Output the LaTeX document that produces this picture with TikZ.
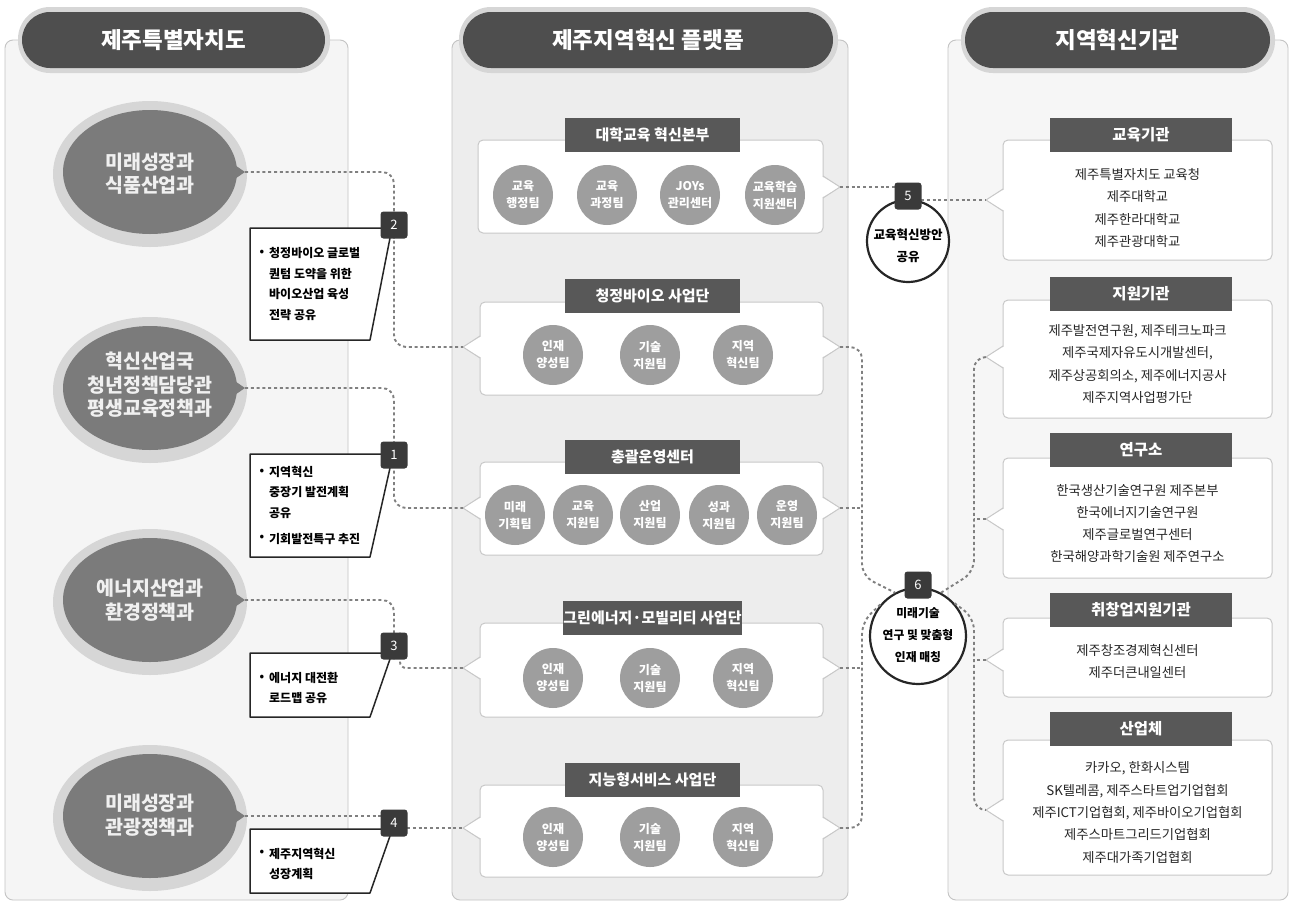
\documentclass[tikz,border=0pt]{standalone}
\usepackage{fontspec}
\setmainfont{Noto Sans CJK KR}
\definecolor{pnlL}{HTML}{F5F5F5}
\definecolor{pnlM}{HTML}{EDEDED}
\definecolor{pnlR}{HTML}{F6F6F6}
\definecolor{pnlB}{HTML}{C4C4C4}
\definecolor{hdr}{HTML}{4E4E4E}
\definecolor{halo}{HTML}{D6D6D6}
\definecolor{ell}{HTML}{7B7B7B}
\definecolor{tabc}{HTML}{585858}
\definecolor{circ}{HTML}{9E9E9E}
\definecolor{numc}{HTML}{3A3A3A}
\definecolor{dotc}{HTML}{808080}
\definecolor{boxb}{HTML}{C8C8C8}
\definecolor{txt}{HTML}{262626}
\newcommand\ptrR[3]{%
  \fill[white] (#1-2,#2-11) -- (#1+17,#2) -- (#1-2,#2+11) -- cycle;
  \draw[draw=boxb,line width=1pt,line join=round] (#1,#2-11) -- (#1+17,#2) -- (#1,#2+11);
  \coordinate (#3) at (#1+17,#2);}
\newcommand\ptrL[3]{%
  \fill[white] (#1+2,#2-11) -- (#1-17,#2) -- (#1+2,#2+11) -- cycle;
  \draw[draw=boxb,line width=1pt,line join=round] (#1,#2-11) -- (#1-17,#2) -- (#1,#2+11);
  \coordinate (#3) at (#1-17,#2);}
\newcommand\blob[2]{%
  \fill[halo] (150,#2+2) ellipse [x radius=97, y radius=73];
  \fill[ell] (150,#2) ellipse [x radius=87, y radius=62];
  \fill[ell] (226,#2-13) -- (245,#2) -- (226,#2+13) -- cycle;
  \coordinate (#1) at (245,#2);}
\newcommand\callout[3]{%
  \draw[call] (250,#2) -- (384,#2) -- (390,#1+13) -- (370,#3) -- (250,#3) -- cycle;}
\begin{document}
\begin{tikzpicture}[x=1pt,y=-1pt,
  hdrtext/.style={text=white,font=\fontsize{22.5}{26}\selectfont\bfseries,inner sep=0},
  ellt/.style={text=white!94!black,font=\fontsize{19.5}{23.5}\selectfont\bfseries,align=center,inner sep=0},
  tabbox/.style={fill=tabc,text=white,minimum height=34pt,inner sep=0,font=\fontsize{15}{17}\selectfont\bfseries},
  team/.style={circle,fill=circ,minimum size=60pt,inner sep=0,text=white,align=center,font=\fontsize{12}{17}\selectfont\bfseries},
  numbox/.style={fill=numc,rounded corners=3pt,minimum size=27pt,inner sep=0,text=white,font=\fontsize{13}{15}\selectfont},
  dotline/.style={draw=dotc,line width=1.9pt,dash pattern=on 3pt off 2.8pt,rounded corners=12pt},
  call/.style={draw=black!85,line width=1.5pt,fill=white,line join=round},
  calltext/.style={font=\fontsize{12}{20.5}\selectfont\bfseries,align=left,anchor=west,inner sep=0},
  bul/.style={font=\fontsize{11.5}{14}\selectfont\bfseries,inner sep=0},
  orgtext/.style={font=\fontsize{13.3}{22.3}\selectfont,text=txt,align=center,inner sep=0},
  ctext/.style={font=\fontsize{12.5}{22}\selectfont\bfseries,align=center,inner sep=0},
  wbox/.style={draw=boxb,line width=1pt,fill=white,rounded corners=5pt}]
\useasboundingbox (0,0) rectangle (1291,903);
\fill[white] (0,0) rectangle (1291,903);

% panels
\draw[draw=pnlB,fill=pnlL,rounded corners=8pt,line width=0.9pt] (5,40) rectangle (348,900);
\draw[draw=pnlB,fill=pnlM,rounded corners=8pt,line width=0.9pt] (452,40) rectangle (848,900);
\draw[draw=pnlB,fill=pnlR,rounded corners=8pt,line width=0.9pt] (948,40) rectangle (1288,900);

% headers
\fill[halo,rounded corners=32pt] (18,7) rectangle (330,73);
\fill[hdr,rounded corners=28pt] (22,12) rectangle (325,68);
\node[hdrtext] (h1) at (173.5,40) {제주특별자치도};
\fill[halo,rounded corners=32pt] (459,7) rectangle (838,73);
\fill[hdr,rounded corners=28pt] (463,12) rectangle (833,68);
\node[hdrtext] (h2) at (648,40) {제주지역혁신 플랫폼};
\fill[halo,rounded corners=32pt] (961,7) rectangle (1275,73);
\fill[hdr,rounded corners=28pt] (965,12) rectangle (1270,68);
\node[hdrtext] (h3) at (1117.5,40) {지역혁신기관};

% left ellipses
\blob{e1}{172}
\node[ellt] (e1t) at (150,173.5) {미래성장과\\식품산업과};
\blob{e2}{388}
\node[ellt] (e2t) at (150,385) {혁신산업국\\청년정책담당관\\평생교육정책과};
\blob{e3}{600}
\node[ellt] (e3t) at (150,600) {에너지산업과\\환경정책과};
\blob{e4}{816}
\node[ellt] (e4t) at (150,815) {미래성장과\\관광정책과};

% middle boxes
\draw[wbox] (478,140) rectangle (823,233); \ptrR{823}{187}{bxAR}
\draw[wbox] (480,302) rectangle (823,395); \ptrL{480}{347}{bxBL} \ptrR{823}{347}{bxBR}
\draw[wbox] (480,462) rectangle (823,555); \ptrL{480}{508}{bxCL} \ptrR{823}{508}{bxCR}
\draw[wbox] (480,623) rectangle (823,717); \ptrL{480}{668}{bxDL} \ptrR{823}{668}{bxDR}
\draw[wbox] (480,785) rectangle (823,877); \ptrL{480}{828}{bxEL} \ptrR{823}{828}{bxER}

\node[tabbox,minimum width=175pt] (tA) at (652.5,134.5) {대학교육 혁신본부};
\node[tabbox,minimum width=175pt] (tB) at (652.5,295.5) {청정바이오 사업단};
\node[tabbox,minimum width=175pt] (tC) at (652.5,457) {총괄운영센터};
\node[tabbox,minimum width=175pt] (tD) at (652.5,617.5) {그린에너지·모빌리티 사업단};
\node[tabbox,minimum width=175pt] (tE) at (652.5,779.5) {지능형서비스 사업단};

\node[team] (a1) at (523,195) {교육\\행정팀};
\node[team] (a2) at (607,195) {교육\\과정팀};
\node[team] (a3) at (690,195) {JOYs\\관리센터};
\node[team] (a4) at (775,195) {교육학습\\지원센터};

\node[team] (b1) at (553,355) {인재\\양성팀};
\node[team] (b2) at (650,355) {기술\\지원팀};
\node[team] (b3) at (743,355) {지역\\혁신팀};

\node[team] (c1) at (515,515) {미래\\기획팀};
\node[team] (c2) at (583,515) {교육\\지원팀};
\node[team] (c3) at (650,515) {산업\\지원팀};
\node[team] (c4) at (719,515) {성과\\지원팀};
\node[team] (c5b) at (787,515) {운영\\지원팀};

\node[team] (d1) at (553,678) {인재\\양성팀};
\node[team] (d2) at (650,678) {기술\\지원팀};
\node[team] (d3) at (743,678) {지역\\혁신팀};

\node[team] (f1) at (553,837) {인재\\양성팀};
\node[team] (f2) at (650,837) {기술\\지원팀};
\node[team] (f3) at (743,837) {지역\\혁신팀};

% right boxes
\draw[wbox] (1003,140) rectangle (1272,260); \ptrL{1003}{200}{rb1L}
\draw[wbox] (1003,300) rectangle (1272,418); \ptrL{1003}{357}{rb2L}
\draw[wbox] (1003,458) rectangle (1272,578); \ptrL{1003}{519}{rb3L}
\draw[wbox] (1003,618) rectangle (1272,697); \ptrL{1003}{660}{rb4L}
\draw[wbox] (1003,740) rectangle (1272,875); \ptrL{1003}{810}{rb5L}

\node[tabbox,minimum width=182pt,font=\fontsize{15.5}{17}\selectfont\bfseries] (r1) at (1141,134.5) {교육기관};
\node[tabbox,minimum width=182pt,font=\fontsize{15.5}{17}\selectfont\bfseries] (r2) at (1141,293.5) {지원기관};
\node[tabbox,minimum width=182pt,font=\fontsize{15.5}{17}\selectfont\bfseries] (r3) at (1141,449.5) {연구소};
\node[tabbox,minimum width=182pt,font=\fontsize{15.5}{17}\selectfont\bfseries] (r4) at (1141,610) {취창업지원기관};
\node[tabbox,minimum width=182pt,font=\fontsize{15.5}{17}\selectfont\bfseries] (r5) at (1141,728.5) {산업체};

\node[orgtext] (o1) at (1137.5,208) {제주특별자치도 교육청\\제주대학교\\제주한라대학교\\제주관광대학교};
\node[orgtext] (o2) at (1137.5,364) {제주발전연구원, 제주테크노파크\\제주국제자유도시개발센터,\\제주상공회의소, 제주에너지공사\\제주지역사업평가단};
\node[orgtext] (o3) at (1137.5,523.5) {한국생산기술연구원 제주본부\\한국에너지기술연구원\\제주글로벌연구센터\\한국해양과학기술원 제주연구소};
\node[orgtext] (o4) at (1137.5,661.5) {제주창조경제혁신센터\\제주더큰내일센터};
\node[orgtext] (o5) at (1137.5,812.5) {카카오, 한화시스템\\SK텔레콤, 제주스타트업기업협회\\제주ICT기업협회, 제주바이오기업협회\\제주스마트그리드기업협회\\제주대가족기업협회};

% circles 5 and 6
\node[circle,draw=black!85,line width=2.2pt,fill=white,minimum size=82pt,inner sep=0] (c5) at (908,241) {};
\node[circle,draw=black!85,line width=2.2pt,fill=white,minimum size=96pt,inner sep=0] (c6) at (918,636) {};

% callout number box positions
\coordinate (n2c) at (394,225);
\coordinate (n1c) at (394,455);
\coordinate (n3c) at (394,646);
\coordinate (n4c) at (394,823);

% dotted connectors
\draw[dotline] (e1) -| ([yshift=-13.5pt]n2c);
\draw[dotline] ([yshift=13.5pt]n2c) |- (bxBL);
\draw[dotline] (e2) -| ([yshift=-13.5pt]n1c);
\draw[dotline] ([yshift=13.5pt]n1c) |- (bxCL);
\draw[dotline] (e3) -| ([yshift=-13.5pt]n3c);
\draw[dotline,rounded corners=6pt] ([xshift=6pt,yshift=13.5pt]n3c) |- (bxDL);
\draw[dotline] (e4) -- (e4 -| 381,0);
\draw[dotline] (bxEL -| 407,0) -- (bxEL);

\draw[dotline] (bxAR) -- (bxAR -| 895,0);
\draw[dotline] (rb1L -| 921,0) -- (rb1L);

\draw[dotline] (bxBR) -- (862,347) -- (862,576) -- (c6.118);
\draw[dotline] (bxCR) -- +(22,0);
\draw[dotline] (bxDR) -- +(22,0);
\draw[dotline] (c6.140) -- (862,622) -- (862,828) -- (bxER);
\draw[dotline] (c6.62) -- (974,572) -- (974,357) -- (rb2L);
\draw[dotline] (rb3L) -- +(-12,0);
\draw[dotline] (c6.42) -- (974,618) -- (974,810) -- (rb5L);
\draw[dotline] (rb4L) -- +(-12,0);

% circles content
\node[numbox] (n5) at (908,196) {5};
\node[ctext] (c5t) at (908,246) {교육혁신방안\\공유};
\node[numbox] (n6) at (918,585) {6};
\node[ctext,font=\fontsize{11.8}{22}\selectfont\bfseries] (c6t) at (918,635) {미래기술\\연구 및 맞춤형\\인재 매칭};

% callouts
\callout{225}{228}{340}
\node[numbox] (n2) at (n2c) {2};
\node[bul] (b2a) at (262,253) {•};
\node[calltext] (k2) at (269,284) {청정바이오 글로벌\\퀀텀 도약을 위한\\바이오산업 육성\\전략 공유};

\callout{455}{454}{557}
\node[numbox] (n1) at (n1c) {1};
\node[bul] (b1a) at (262,472) {•};
\node[bul] (b1b) at (262,538) {•};
\node[calltext] (k1) at (269,505) {지역혁신\\중장기 발전계획\\공유\\[5.5pt]기회발전특구 추진};

\callout{646}{653}{717}
\node[numbox] (n3) at (n3c) {3};
\node[bul] (b3a) at (262,678) {•};
\node[calltext] (k3) at (269,688) {에너지 대전환\\로드맵 공유};

\callout{823}{829}{893}
\node[numbox] (n4) at (n4c) {4};
\node[bul] (b4a) at (262,853) {•};
\node[calltext] (k4) at (269,864) {제주지역혁신\\성장계획};
\end{tikzpicture}
\end{document}
